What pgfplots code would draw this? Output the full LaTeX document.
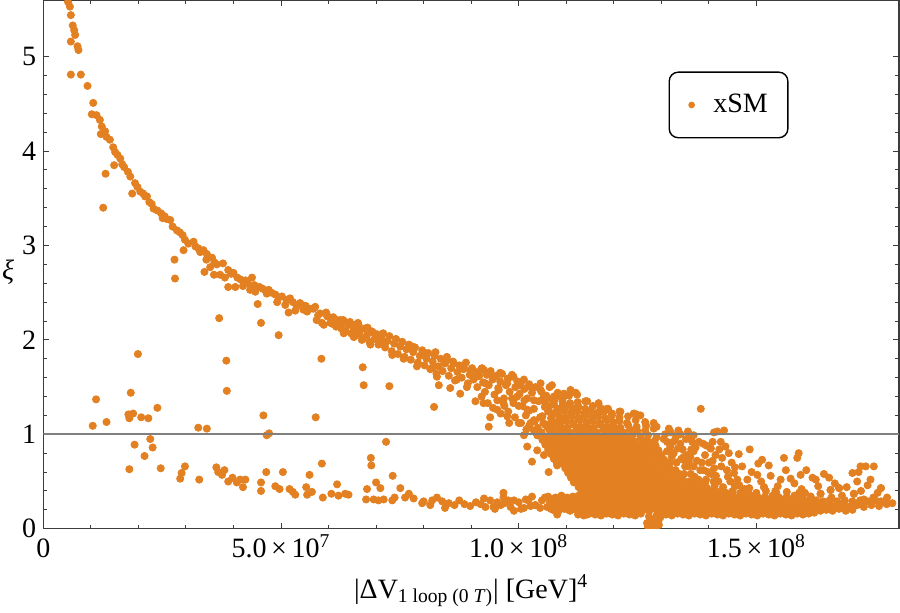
\documentclass[border=0pt]{standalone}
\usepackage{fontspec}
\setmainfont{Liberation Serif}
\usepackage{pgfplots}
\pgfplotsset{compat=1.18}
\definecolor{orng}{RGB}{226,128,34}
\definecolor{framec}{RGB}{60,60,60}
\definecolor{refline}{RGB}{128,128,128}
\newcommand{\fs}{\fontsize{14}{16.8}\selectfont}
\pgfplotsset{pts/.style={only marks, mark=*, mark size=1.8pt, color=orng, mark options={draw=none, fill=orng}}}
\begin{document}
\begin{tikzpicture}
\begin{axis}[
  scale only axis, width=427.85pt, height=264.35pt,
  xmin=0, xmax=18, ymin=0, ymax=5.6,
  axis line style={framec, line width=0.55pt},
  tick align=inside,
  tick style={framec, line width=0.45pt},
  major tick length=3pt, minor tick length=1.8pt,
  xtick={0,5,10,15}, minor x tick num=4,
  xticklabels={0, 5.0\,×\,10\textsuperscript{7}, 1.0\,×\,10\textsuperscript{8}, 1.5\,×\,10\textsuperscript{8}},
  ytick={0,1,2,3,4,5}, minor y tick num=4,
  /pgf/number format/assume math mode=true,
  tick label style={font=\fs, text=black},
  xticklabel style={anchor=base, yshift=-14.6pt},
  xlabel={|ΔV\textsubscript{1 loop (0 \textit{T})}| [GeV]\textsuperscript{4}},
  xlabel style={font=\fs, at={(axis description cs:0.5,0)}, anchor=base, yshift=-34.8pt},
  ylabel={\textit{ξ}},
  ylabel style={font=\fs, rotate=-90, at={(axis description cs:0,0.4855)}, anchor=center, xshift=-17.6pt},
  clip marker paths=true,
  legend style={at={(rel axis cs:0.8008,0.8015)}, anchor=center, draw=black, line width=0.7pt, rounded corners=4.5pt, inner xsep=8pt, inner ysep=9pt, font=\fs, fill=white},
]
% upper band, x < 7
\addplot[pts, legend image code/.code={\fill[orng] (0cm,0cm) circle (1.3pt); \path (-0.1cm,0cm) (0.3cm,0cm);}] coordinates {
(0.52,5.58) (0.56,5.53) (0.58,5.44) (0.62,5.33) (0.65,5.28) (0.67,5.23) (0.58,5.16) (0.72,5.11) (0.74,5.07) (0.58,4.81) (0.79,4.81) (0.93,4.69) (1.05,4.51) (1.02,4.39) (1.12,4.38) (1.19,4.33) (1.23,4.26) (1.21,4.18) (1.30,4.21) (1.33,4.15) (1.40,4.12) (1.47,4.04) (1.51,3.99) (1.56,3.96) (1.49,3.85) (1.31,3.76) (1.26,3.40) (1.70,3.83) (1.78,3.78) (1.83,3.73) (1.93,3.66) (1.87,3.55) (2.04,3.57) (2.14,3.52) (2.18,3.52) (2.23,3.46) (2.32,3.39) (2.48,3.34) (2.51,3.29) (2.67,3.27) (2.81,3.16) (2.93,3.11) (2.98,3.06) (3.16,3.04) (3.26,2.97) (2.95,2.95) (3.37,2.95) (3.44,2.91) (3.55,2.87) (2.76,2.85) (3.43,2.85) (3.78,2.81) (3.51,2.77) (3.72,2.69) (3.89,2.74) (4.00,2.71) (4.08,2.66) (4.25,2.63) (4.39,2.66) (4.44,2.58) (4.55,2.56) (2.77,2.65) (3.39,2.72) (3.59,2.69) (3.89,2.56) (4.04,2.56) (4.46,2.51) (4.51,2.38) (4.74,2.53) (4.88,2.48) (5.02,2.46) (5.19,2.44) (5.09,2.37) (5.16,2.29) (5.40,2.39) (5.47,2.32) (5.61,2.33) (5.72,2.35) (5.82,2.28) (5.97,2.25) (5.86,2.18) (6.04,2.18) (6.25,2.21) (6.39,2.18) (6.56,2.16) (5.44,2.37) (5.68,2.33) (5.90,2.16) (6.18,2.21) (6.28,2.18) (6.32,2.07) (6.53,2.03) (6.63,2.16) (6.70,2.00) (6.91,2.09) (6.88,1.95)
(3.05,3.02) (3.20,2.99) (3.65,2.80) (3.95,2.70) (4.15,2.64) (4.30,2.60) (4.62,2.54) (4.80,2.50) (4.95,2.45) (5.25,2.40) (5.33,2.36) (5.55,2.30) (5.78,2.26) (6.10,2.24) (1.62,3.92) (1.98,3.62) (2.10,3.55) (2.40,3.37) (2.60,3.28) (2.72,3.20) (2.87,3.14)
(4.70,2.49) (4.92,2.40) (5.12,2.42) (5.30,2.31) (5.52,2.36) (5.75,2.21) (5.95,2.29) (6.14,2.16) (6.45,2.19) (6.60,2.09) (6.82,2.13) (3.30,2.93) (3.60,2.82) (3.82,2.66) (4.20,2.57) (4.35,2.53) (2.55,3.31) (2.28,3.44) (1.66,3.86)
};
\addlegendentry{xSM}
% band fill 6-11
\addplot[pts, forget plot] coordinates {
(6.02,2.24) (6.08,2.17) (6.12,2.22) (6.16,2.14) (6.21,2.19) (6.27,2.12) (6.31,2.21) (6.35,2.10) (6.42,2.16) (6.47,2.07) (6.52,2.13) (6.58,2.05) (6.62,2.18) (6.66,2.09) (6.72,2.02) (6.76,2.12) (6.81,2.05) (6.86,1.98) (6.93,2.08) (6.97,2.01)
(7.02,2.06) (7.05,1.95) (7.10,2.01) (7.15,2.07) (7.19,1.92) (7.24,1.99) (7.28,2.04) (7.33,1.88) (7.38,1.96) (7.42,2.01) (7.46,1.85) (7.51,1.93) (7.55,1.98) (7.60,1.82) (7.64,1.90) (7.69,1.95) (7.73,1.79) (7.78,1.87) (7.82,1.92) (7.88,1.76) (7.92,1.83) (7.97,1.89)
(8.02,1.73) (8.06,1.80) (8.10,1.86) (8.14,1.69) (8.19,1.77) (8.23,1.83) (8.27,1.64) (8.31,1.72) (8.36,1.80) (8.40,1.67) (8.45,1.75) (8.49,1.82) (8.53,1.62) (8.58,1.70) (8.62,1.77) (8.66,1.57) (8.71,1.66) (8.75,1.73) (8.80,1.60) (8.84,1.69) (8.89,1.76) (8.93,1.54) (8.97,1.63)
(9.02,1.70) (9.05,1.58) (9.09,1.66) (9.13,1.50) (9.17,1.62) (9.21,1.69) (9.25,1.55) (9.29,1.45) (9.33,1.63) (9.37,1.52) (9.41,1.67) (9.45,1.58) (9.49,1.42) (9.53,1.62) (9.57,1.49) (9.61,1.56) (9.65,1.64) (9.69,1.38) (9.73,1.52) (9.77,1.59) (9.81,1.45) (9.85,1.61) (9.89,1.33) (9.93,1.50) (9.97,1.56)
(10.02,1.43) (10.05,1.55) (10.08,1.30) (10.12,1.48) (10.15,1.20) (10.18,1.38) (10.22,1.53) (10.25,1.12) (10.28,1.44) (10.32,1.27) (10.35,1.50) (10.38,1.05) (10.42,1.35) (10.45,1.18) (10.48,1.45) (10.52,0.98) (10.55,1.29) (10.58,1.41) (10.62,1.10) (10.65,1.50) (10.68,0.92) (10.72,1.22) (10.75,1.36) (10.78,1.02) (10.82,1.44) (10.85,1.15) (10.88,0.86) (10.92,1.30) (10.95,1.40) (10.98,0.97)
(7.12,2.05) (7.19,1.96) (7.34,1.84) (7.51,1.93) (7.58,1.80) (7.76,1.93) (7.86,1.72) (8.04,1.86) (8.25,1.87) (8.18,1.70) (8.28,1.61) (8.49,1.79) (8.63,1.75) (8.70,1.58) (8.84,1.72) (8.98,1.68) (8.91,1.50) (9.12,1.61) (9.23,1.70) (9.30,1.54) (9.47,1.61) (9.61,1.65) (9.58,1.47) (9.76,1.54) (9.89,1.61) (10.04,1.52) (9.97,1.40) (10.25,1.50) (10.32,1.36) (10.46,1.47) (10.56,1.33) (10.74,1.40) (10.81,1.26) (10.18,1.26) (9.76,1.19) (10.00,1.12) (10.32,1.15) (10.49,1.19) (10.60,1.08) (10.77,1.12) (10.67,0.96) (10.18,0.87) (10.39,0.99) (10.11,0.99) (9.37,1.08) (9.26,1.33) (9.09,1.35) (8.56,1.49) (8.32,1.52) (8.77,1.43) (9.55,1.26) (9.68,1.33) (9.89,1.36)
(9.22,1.40) (9.35,1.33) (9.46,1.28) (9.55,1.36) (9.62,1.22) (9.70,1.30) (9.78,1.24) (9.86,1.38) (9.92,1.18) (10.00,1.30) (10.05,1.12) (10.12,1.36) (10.16,1.05) (9.40,1.18) (9.80,1.12) (10.22,1.25)
(13.16,1.06) (12.84,1.12) (12.56,1.20) (12.42,1.22) (12.14,1.24) (11.86,1.27) (11.68,1.33) (11.44,1.35) (11.23,1.42) (11.09,1.47) (10.95,1.43) (10.70,1.52) (10.46,1.54) (10.11,1.58) (9.86,1.63) (9.61,1.65) (9.27,1.68)
};
% outliers and lower chain
\addplot[pts, forget plot] coordinates {
(3.70,2.23) (4.58,2.18) (4.95,2.05) (5.85,1.80) (3.85,1.78) (3.86,1.46) (6.72,1.71) (6.74,1.52) (7.28,1.51) (5.73,1.18) (7.21,0.92) (8.22,1.29) (1.99,1.85) (1.11,1.37) (1.84,1.44) (1.79,1.21) (1.89,1.22) (1.81,1.17) (2.06,1.18) (2.21,1.17) (2.40,1.28) (1.04,1.09) (1.33,1.13) (2.25,0.95) (2.30,0.86) (3.26,1.07) (3.44,1.06) (4.63,1.20) (4.70,0.99) (4.75,1.01) (1.92,0.89) (2.13,0.77) (1.81,0.63) (2.47,0.64)
(2.88,0.53) (2.91,0.59) (2.98,0.66) (3.28,0.52) (3.64,0.65) (3.68,0.60) (3.76,0.57) (3.81,0.62) (3.89,0.50) (3.98,0.54) (4.07,0.49) (4.14,0.52) (4.20,0.44) (4.25,0.52) (4.58,0.49) (4.58,0.40) (4.69,0.60) (4.88,0.45) (4.97,0.42) (5.04,0.60) (5.18,0.42) (5.25,0.39) (5.30,0.36) (5.53,0.44) (5.55,0.36) (5.60,0.57) (5.65,0.39) (5.86,0.69) (5.88,0.33) (6.06,0.37) (6.18,0.47) (6.21,0.35) (6.35,0.37) (6.42,0.36) (6.81,0.42) (6.79,0.31) (6.89,0.75) (6.90,0.67) (6.95,0.31) (7.00,0.49) (7.05,0.30) (7.09,0.43) (7.16,0.31) (7.35,0.56) (7.34,0.30) (7.39,0.33) (7.51,0.43) (7.61,0.33) (7.69,0.37) (7.79,0.32) (7.97,0.27) (8.00,0.29) (8.14,0.25) (8.18,0.30) (8.28,0.33) (8.39,0.29) (8.53,0.27) (8.65,0.25) (8.75,0.30) (8.86,0.26) (8.98,0.24) (9.10,0.28) (8.45,0.22)
(9.27,0.32) (9.30,0.23) (9.47,0.23) (9.68,0.33) (9.68,0.38) (9.83,0.23) (10.00,0.28) (10.11,0.22) (10.28,0.34) (10.35,0.25) (10.49,0.30) (10.60,0.23) (10.74,0.32) (10.81,0.15) (10.88,0.23) (11.05,0.20) (11.16,0.31) (11.30,0.18) (11.44,0.15) (11.62,0.27) (11.65,0.34) (11.79,0.16)
(9.20,0.26) (9.40,0.30) (9.50,0.21) (9.70,0.27) (9.90,0.30) (10.05,0.21) (10.15,0.31) (10.25,0.24) (10.45,0.22) (10.55,0.33) (10.68,0.21) (9.90,0.19)
(10.28,0.71) (10.39,0.83) (10.63,0.60) (10.53,0.78) (10.81,0.67) (10.88,0.76) (10.70,0.94) (10.98,0.82) (11.05,0.62) (11.16,0.57) (11.30,0.44) (11.44,0.37) (11.33,0.73)
};
% dense blob rows
\addplot[pts, forget plot] coordinates {
(11.25,0.15) (11.37,0.14) (11.49,0.16) (11.61,0.15) (11.73,0.14) (11.85,0.16) (11.97,0.15) (12.09,0.14) (12.21,0.16) (12.33,0.15) (12.45,0.14) (12.57,0.16) (13.10,0.15) (13.22,0.14) (13.34,0.16) (13.46,0.15) (13.58,0.14) (13.70,0.16) (13.82,0.15) (13.94,0.14) (14.06,0.16) (14.18,0.15) (14.30,0.14) (14.42,0.16) (14.54,0.15) (14.66,0.14) (14.78,0.16) (14.90,0.15) (15.02,0.14) (15.14,0.16) (15.26,0.15) (15.38,0.14) (15.50,0.16) (15.62,0.15) (15.74,0.14) (15.86,0.16) (15.98,0.15) (16.10,0.16) (16.22,0.17)
(10.72,0.20) (10.84,0.19) (10.96,0.21) (11.08,0.19) (11.20,0.20) (11.31,0.19) (11.43,0.21) (11.55,0.19) (11.67,0.20) (11.79,0.19) (11.91,0.21) (12.03,0.19) (12.15,0.20) (12.27,0.19) (12.39,0.21) (12.51,0.19) (12.63,0.20) (12.75,0.19) (12.87,0.21) (12.99,0.19) (13.11,0.20) (13.23,0.19) (13.35,0.21) (13.47,0.19) (13.59,0.20) (13.71,0.19) (13.83,0.21) (13.95,0.19) (14.07,0.20) (14.19,0.19) (14.31,0.21) (14.43,0.19) (14.55,0.20) (14.67,0.19) (14.79,0.21) (14.91,0.19) (15.03,0.20) (15.15,0.19) (15.27,0.21) (15.39,0.19) (15.51,0.20) (15.63,0.19) (15.75,0.21) (15.87,0.19) (15.99,0.20) (16.11,0.19) (16.23,0.21) (16.35,0.19) (16.47,0.20) (16.60,0.19) (16.74,0.21) (16.88,0.19) (17.02,0.20)
(9.62,0.25) (10.35,0.25) (10.78,0.25) (10.90,0.24) (11.02,0.26) (11.14,0.24) (11.26,0.25) (11.38,0.24) (11.50,0.26) (11.62,0.24) (11.74,0.25) (11.86,0.24) (11.98,0.26) (12.10,0.24) (12.22,0.25) (12.34,0.24) (12.46,0.26) (12.58,0.24) (12.70,0.25) (12.82,0.24) (12.94,0.26) (13.06,0.24) (13.18,0.25) (13.30,0.24) (13.42,0.26) (13.54,0.24) (13.66,0.25) (13.78,0.24) (13.90,0.26) (14.02,0.24) (14.14,0.25) (14.26,0.24) (14.38,0.26) (14.50,0.24) (14.62,0.25) (14.74,0.24) (14.86,0.26) (14.98,0.24) (15.10,0.25) (15.22,0.24) (15.34,0.26) (15.46,0.24) (15.58,0.25) (15.70,0.24) (15.82,0.26) (15.94,0.24) (16.06,0.25) (16.18,0.24) (16.30,0.26) (16.42,0.24) (16.56,0.25) (16.70,0.24) (16.84,0.26) (16.98,0.24) (17.12,0.25) (17.26,0.23) (17.42,0.25) (17.58,0.24) (17.74,0.26)
(9.55,0.28) (9.78,0.30) (10.20,0.30) (10.66,0.28) (10.84,0.29) (10.96,0.30) (11.08,0.29) (11.20,0.30) (11.32,0.29) (11.44,0.30) (11.56,0.29) (11.68,0.30) (11.80,0.29) (11.92,0.30) (12.04,0.29) (12.16,0.30) (12.28,0.29) (12.40,0.30) (12.52,0.29) (12.64,0.30) (12.76,0.29) (12.88,0.30) (13.00,0.29) (13.12,0.30) (13.24,0.29) (13.36,0.30) (13.48,0.29) (13.60,0.30) (13.72,0.29) (13.84,0.30) (13.96,0.29) (14.08,0.30) (14.20,0.29) (14.32,0.30) (14.44,0.29) (14.56,0.30) (14.68,0.29) (14.80,0.30) (14.92,0.29) (15.04,0.30) (15.16,0.29) (15.28,0.30) (15.40,0.29) (15.52,0.30) (15.64,0.29) (15.76,0.30) (15.88,0.29) (16.00,0.30) (16.12,0.29) (16.26,0.30) (16.40,0.29) (16.54,0.30) (16.70,0.29) (16.86,0.30) (17.02,0.29) (17.18,0.30) (17.34,0.29) (17.50,0.30)
(10.62,0.34) (10.78,0.33) (10.90,0.35) (11.02,0.33) (11.14,0.34) (11.26,0.35) (11.38,0.33) (11.50,0.34) (11.62,0.35) (11.74,0.33) (11.86,0.34) (11.98,0.35) (12.10,0.33) (12.22,0.34) (12.34,0.35) (12.46,0.33) (12.58,0.34) (12.70,0.35) (12.82,0.33) (12.94,0.34) (13.06,0.35) (13.18,0.33) (13.30,0.34) (13.42,0.35) (13.54,0.33) (13.66,0.34) (13.78,0.35) (13.90,0.33) (14.02,0.34) (14.14,0.35) (14.26,0.33) (14.38,0.34) (14.50,0.35) (14.62,0.33) (14.76,0.34) (14.90,0.35) (15.04,0.33) (15.18,0.34) (15.34,0.35) (15.48,0.33) (15.64,0.34) (15.80,0.35) (15.96,0.33) (16.14,0.34) (16.35,0.37) (16.58,0.33) (16.80,0.35) (17.05,0.37) (17.26,0.31)
(11.32,0.39) (11.44,0.38) (11.56,0.40) (11.68,0.39) (11.80,0.38) (11.92,0.40) (12.04,0.39) (12.16,0.38) (12.28,0.40) (12.40,0.39) (12.52,0.38) (12.64,0.40) (12.76,0.39) (12.88,0.38) (13.00,0.40) (13.12,0.39) (13.24,0.38) (13.36,0.40) (13.48,0.39) (13.60,0.38) (13.72,0.40) (13.84,0.39) (13.96,0.38) (14.08,0.40) (14.22,0.39) (14.36,0.38) (14.50,0.40) (14.66,0.38) (14.82,0.39) (15.00,0.38) (15.20,0.40) (15.42,0.38) (15.64,0.39) (15.90,0.38)
(11.26,0.44) (11.38,0.43) (11.50,0.45) (11.62,0.44) (11.74,0.43) (11.86,0.45) (11.98,0.44) (12.10,0.43) (12.22,0.45) (12.34,0.44) (12.46,0.43) (12.58,0.45) (12.70,0.44) (12.82,0.43) (12.94,0.45) (13.06,0.44) (13.18,0.43) (13.30,0.45) (13.42,0.44) (13.54,0.43) (13.66,0.45) (13.80,0.44) (13.96,0.43) (14.12,0.45) (14.30,0.44) (14.55,0.45) (14.85,0.43) (15.16,0.44) (16.56,0.41) (16.74,0.43) (17.62,0.43)
(11.16,0.49) (11.28,0.48) (11.40,0.50) (11.52,0.49) (11.64,0.48) (11.76,0.50) (11.88,0.49) (12.00,0.48) (12.12,0.50) (12.24,0.49) (12.36,0.48) (12.48,0.50) (12.60,0.49) (12.72,0.48) (12.84,0.50) (12.96,0.49) (13.08,0.48) (13.20,0.50) (13.32,0.49) (13.44,0.48) (13.58,0.50) (13.74,0.49) (13.92,0.48) (14.10,0.50)
(11.10,0.54) (11.22,0.53) (11.34,0.55) (11.46,0.54) (11.58,0.53) (11.70,0.55) (11.82,0.54) (11.94,0.53) (12.06,0.55) (12.18,0.54) (12.30,0.53) (12.42,0.55) (12.54,0.54) (12.66,0.53) (12.78,0.55) (12.90,0.54) (13.02,0.53) (13.14,0.55) (13.28,0.54) (13.44,0.53)
(11.04,0.59) (11.16,0.58) (11.28,0.60) (11.40,0.59) (11.52,0.58) (11.64,0.60) (11.76,0.59) (11.88,0.58) (12.00,0.60) (12.12,0.59) (12.24,0.58) (12.36,0.60) (12.48,0.59) (12.60,0.58) (12.72,0.60) (12.84,0.59) (12.96,0.58) (13.10,0.60) (13.26,0.59)
(10.98,0.64) (11.10,0.63) (11.22,0.65) (11.34,0.64) (11.46,0.63) (11.58,0.65) (11.70,0.64) (11.82,0.63) (11.94,0.65) (12.06,0.64) (12.18,0.63) (12.30,0.65) (12.42,0.64) (12.54,0.63) (12.66,0.65) (12.78,0.64) (12.90,0.63) (13.02,0.65) (13.18,0.64)
(10.80,0.70) (10.92,0.69) (11.04,0.68) (11.16,0.70) (11.28,0.69) (11.40,0.68) (11.52,0.70) (11.64,0.69) (11.76,0.68) (11.88,0.70) (12.00,0.69) (12.12,0.68) (12.24,0.70) (12.36,0.69) (12.48,0.68) (12.60,0.70) (12.72,0.69) (12.84,0.68) (12.96,0.70) (13.10,0.69)
(10.74,0.74) (10.86,0.73) (10.98,0.75) (11.10,0.74) (11.22,0.73) (11.34,0.75) (11.46,0.74) (11.58,0.73) (11.70,0.75) (11.82,0.74) (11.94,0.73) (12.06,0.75) (12.18,0.74) (12.30,0.73) (12.42,0.75) (12.54,0.74) (12.66,0.73) (12.78,0.75) (12.92,0.74) (13.06,0.73)
(10.68,0.79) (10.80,0.78) (10.92,0.80) (11.04,0.79) (11.16,0.78) (11.28,0.80) (11.40,0.79) (11.52,0.78) (11.64,0.80) (11.76,0.79) (11.88,0.78) (12.00,0.80) (12.12,0.79) (12.24,0.78) (12.36,0.80) (12.48,0.79) (12.60,0.78) (12.72,0.80) (12.86,0.79) (13.00,0.78)
(10.62,0.84) (10.74,0.83) (10.86,0.85) (10.98,0.84) (11.10,0.83) (11.22,0.85) (11.34,0.84) (11.46,0.83) (11.58,0.85) (11.70,0.84) (11.82,0.83) (11.94,0.85) (12.06,0.84) (12.18,0.83) (12.30,0.85) (12.42,0.84) (12.54,0.83) (12.66,0.85) (12.80,0.84) (12.94,0.83)
(10.56,0.89) (10.68,0.88) (10.80,0.90) (10.92,0.89) (11.04,0.88) (11.16,0.90) (11.28,0.89) (11.40,0.88) (11.52,0.90) (11.64,0.89) (11.76,0.88) (11.88,0.90) (12.00,0.89) (12.12,0.88) (12.24,0.90) (12.36,0.89) (12.48,0.88) (12.60,0.90) (12.74,0.89) (12.88,0.88)
(10.50,0.94) (10.62,0.93) (10.74,0.95) (10.86,0.94) (10.98,0.93) (11.10,0.95) (11.22,0.94) (11.34,0.93) (11.46,0.95) (11.58,0.94) (11.70,0.93) (11.82,0.95) (11.94,0.94) (12.06,0.93) (12.18,0.95) (12.30,0.94) (12.42,0.93) (12.56,0.95) (12.70,0.94) (12.86,0.93)
(10.40,0.99) (10.56,0.97) (10.72,1.00) (10.86,0.98) (11.00,0.99) (11.14,0.97) (11.28,1.00) (11.42,0.98) (11.56,0.99) (11.70,0.97) (11.84,1.00) (11.98,0.98) (12.12,0.99) (12.26,0.97) (12.40,1.00) (12.56,0.98) (12.72,0.99) (12.90,0.97) (13.08,1.00)
(10.32,1.04) (10.48,1.02) (10.64,1.05) (10.80,1.03) (10.94,1.04) (11.08,1.02) (11.22,1.05) (11.36,1.03) (11.50,1.04) (11.64,1.02) (11.78,1.05) (11.92,1.03) (12.06,1.04) (12.20,1.02) (12.34,1.05) (12.50,1.03) (12.66,1.04) (12.84,1.06)
(10.22,1.09) (10.40,1.07) (10.56,1.10) (10.72,1.08) (10.88,1.09) (11.02,1.07) (11.16,1.10) (11.30,1.08) (11.44,1.09) (11.58,1.07) (11.72,1.10) (11.86,1.08) (12.00,1.09) (12.14,1.07) (12.30,1.10) (12.48,1.08) (12.68,1.09) (12.90,1.08)
(10.34,1.14) (10.52,1.12) (10.70,1.15) (10.86,1.13) (11.00,1.14) (11.14,1.12) (11.28,1.15) (11.42,1.13) (11.56,1.14) (11.70,1.12) (11.84,1.15) (11.98,1.13) (12.12,1.14) (12.28,1.12) (12.46,1.15) (12.66,1.13)
(10.50,1.19) (10.68,1.17) (10.84,1.20) (10.98,1.18) (11.12,1.19) (11.26,1.17) (11.40,1.20) (11.54,1.18) (11.68,1.19) (11.82,1.17) (11.96,1.20) (12.12,1.18) (12.30,1.19) (12.48,1.21)
(10.62,1.24) (10.80,1.22) (10.96,1.25) (11.10,1.23) (11.24,1.24) (11.38,1.22) (11.52,1.25) (11.66,1.23) (11.80,1.24) (11.96,1.22) (12.12,1.24)
(10.64,1.29) (10.82,1.27) (10.98,1.30) (11.12,1.28) (11.26,1.29) (11.40,1.27) (11.56,1.30) (11.72,1.28) (11.88,1.27)
(10.56,1.34) (10.74,1.32) (10.92,1.35) (11.08,1.33) (11.24,1.34) (11.40,1.35)
(10.52,1.39) (10.70,1.37) (10.88,1.40) (11.06,1.41) (11.20,1.44)
(12.72,0.02) (12.80,0.05) (12.88,0.01) (12.95,0.04) (12.76,0.09) (12.86,0.10) (12.94,0.08) (12.70,0.06) (12.84,0.03) (12.98,0.12) (12.74,0.13) (12.90,0.14)
};
% right side scatter
\addplot[pts, forget plot] coordinates {
(13.05,0.95) (13.12,0.82) (13.18,0.70) (13.25,0.92) (13.30,0.62) (13.35,0.85) (13.42,0.74) (13.48,0.58) (13.52,0.95) (13.58,0.66) (13.63,0.84) (13.70,0.55) (13.75,0.72) (13.82,0.62) (13.88,0.90) (13.94,0.52) (14.00,0.70) (14.05,0.58) (14.14,0.78) (14.20,0.50) (14.26,0.66) (14.40,0.55) (14.48,0.70) (14.60,0.52) (13.20,1.02) (13.40,1.00) (13.60,0.96) (13.10,0.60) (13.28,0.52) (13.66,0.48) (13.86,0.46)
(13.15,0.64) (13.22,0.76) (13.32,0.70) (13.38,0.58) (13.45,0.84) (13.55,0.78) (13.62,0.58) (13.72,0.86) (13.78,0.52) (13.85,0.70) (13.92,0.78) (13.98,0.60) (14.08,0.72) (14.15,0.56) (14.22,0.84) (14.38,0.62) (14.45,0.50) (13.30,0.96) (13.50,0.66) (13.65,0.92) (13.95,0.88) (14.25,0.92) (14.55,0.65) (14.42,0.80) (13.12,0.92) (13.36,1.04) (13.56,1.03)
(14.64,0.46) (14.90,0.60) (15.10,0.50) (15.30,0.56) (15.45,0.45) (15.62,0.62) (15.80,0.48) (15.95,0.42) (16.05,0.62) (16.30,0.45) (16.42,0.58) (16.65,0.48) (16.90,0.44) (17.20,0.40) (17.40,0.52) (17.55,0.38) (17.75,0.33) (17.15,0.60) (16.02,0.38) (15.40,0.40) (14.75,0.42)
(13.83,1.27) (14.11,1.02) (14.18,1.03) (14.32,1.04) (13.68,0.99) (14.08,0.92) (14.04,0.85) (14.35,0.87) (14.28,0.75) (14.63,0.79) (14.86,0.84) (15.12,0.73) (15.26,0.67) (15.04,0.69) (15.58,0.75) (15.89,0.80) (15.86,0.75) (14.70,0.66) (14.53,0.59) (14.11,0.64) (13.89,0.62) (15.51,0.52) (15.72,0.53) (15.93,0.57) (16.18,0.54) (16.25,0.52) (16.53,0.54) (16.74,0.43) (17.02,0.59) (17.19,0.66) (17.30,0.66) (17.47,0.66) (17.12,0.50) (17.34,0.46) (17.62,0.43) (17.86,0.27) (17.62,0.29) (17.46,0.33) (17.26,0.30) (17.05,0.37) (16.56,0.41) (16.35,0.37) (16.14,0.34) (15.16,0.44) (14.81,0.52) (15.02,0.57) (13.68,0.82) (13.47,0.76) (13.58,0.71)
(14.04,0.85) (13.79,0.92) (13.61,0.76) (13.47,0.73) (13.68,0.66) (13.40,0.90) (13.19,0.87) (13.26,0.80)
};
\addplot[forget plot, color=refline, line width=1pt] coordinates {(0,1) (18,1)};
\end{axis}
\pgfresetboundingbox
\path[use as bounding box] (-21.65pt,-41.65pt) rectangle (428.35pt,264.35pt);
\end{tikzpicture}
\end{document}
